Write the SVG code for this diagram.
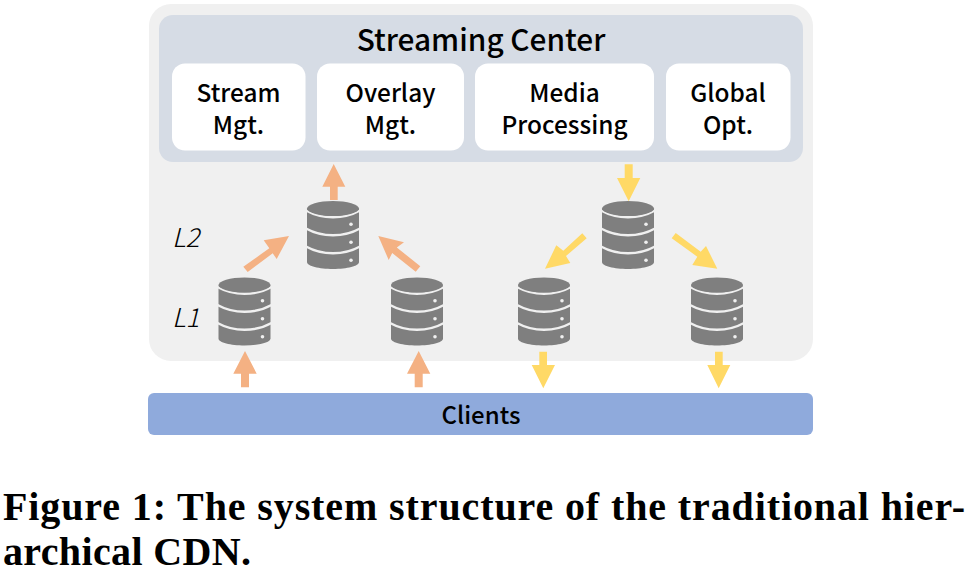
<svg xmlns="http://www.w3.org/2000/svg" width="970" height="572" viewBox="0 0 970 572">
<style>
text{font-family:"Noto Sans CJK SC","Noto Sans",sans-serif;fill:#000;text-anchor:middle;font-weight:500}
.box{fill:#fff}
.lbl{font-size:24.4px}
.lvl{font-size:26px;font-style:italic;font-weight:200;text-anchor:start}
.cap{font-family:"Liberation Serif",serif;font-weight:700;font-size:40px;text-anchor:start}
.up{fill:#F4B183}
.down{fill:#FFD966}
.band{fill:none;stroke:#F0F0F0;stroke-width:2.4}
</style>
<defs>
<g id="db">
<path d="M0,8V61C0,65 12,68 26,68C40,68 52,65 52,61V8Z" fill="#7F7F7F"/>
<path class="band" d="M-1,9.5C8,14.5 18,16.3 26,16.3C34,16.3 44,14.5 53,9.5"/>
<path class="band" d="M-1,27.5C8,32.5 18,34.3 26,34.3C34,34.3 44,32.5 53,27.5"/>
<path class="band" d="M-1,45.5C8,50.5 18,52.3 26,52.3C34,52.3 44,50.5 53,45.5"/>
<ellipse cx="26" cy="7.5" rx="26" ry="7.5" fill="#7F7F7F"/>
<circle cx="44" cy="23.3" r="1.8" fill="#F0F0F0"/>
<circle cx="44" cy="41.3" r="1.8" fill="#F0F0F0"/>
<circle cx="44" cy="59.3" r="1.8" fill="#F0F0F0"/>
</g>
</defs>
<rect width="970" height="572" fill="#fff"/>
<rect id="background" x="149" y="4" width="664" height="357" rx="22" fill="#F0F0F0"/>
<g id="streaming-center">
<rect x="159" y="15" width="644" height="147" rx="14" fill="#D6DCE5"/>
<text x="481" y="50.5" font-size="29.8">Streaming Center</text>
</g>
<g id="stream-mgt"><rect class="box" x="172" y="63.5" width="133.5" height="87" rx="13"/><text class="lbl" x="238.5" y="101.5">Stream</text><text class="lbl" x="238.5" y="133.5">Mgt.</text></g>
<g id="overlay-mgt"><rect class="box" x="317" y="63.5" width="147" height="87" rx="13"/><text class="lbl" x="390.5" y="101.5">Overlay</text><text class="lbl" x="390.5" y="133.5">Mgt.</text></g>
<g id="media-processing"><rect class="box" x="475" y="63.5" width="179" height="87" rx="13"/><text class="lbl" x="564.5" y="101.5">Media</text><text class="lbl" x="564.5" y="133.5">Processing</text></g>
<g id="global-opt"><rect class="box" x="666" y="63.5" width="124.5" height="87" rx="13"/><text class="lbl" x="728" y="101.5">Global</text><text class="lbl" x="728" y="133.5">Opt.</text></g>
<g id="clients"><rect x="148" y="393" width="665" height="42" rx="6" fill="#8FAADC"/><text x="481" y="424" font-size="24">Clients</text></g>
<g id="level-l2"><text class="lvl" x="172" y="246.5">L2</text></g>
<g id="level-l1"><text class="lvl" x="172" y="326.5">L1</text></g>
<g id="server-l2-left"><use href="#db" x="307" y="201"/></g>
<g id="server-l2-right"><use href="#db" x="602" y="201"/></g>
<g id="server-l1-a"><use href="#db" x="218.5" y="277.5"/></g>
<g id="server-l1-b"><use href="#db" x="391" y="277.5"/></g>
<g id="server-l1-c"><use href="#db" x="518" y="277.5"/></g>
<g id="server-l1-d"><use href="#db" x="691" y="277.5"/></g>
<g id="connectors">
<polygon class="up" points="333.7,164 345.3,186.7 337.7,186.7 337.7,200 330,200 330,186.7 322.3,186.7"/>
<polygon class="up" points="245,351 256.7,373.7 249,373.7 249,387.3 241,387.3 241,373.7 233.3,373.7"/>
<polygon class="up" points="418.7,351 430.3,373.7 422.7,373.7 422.7,387.3 414.7,387.3 414.7,373.7 407,373.7"/>
<polygon class="up" points="289,236 263.7,240.3 269.3,248.3 243.3,266.7 247.7,272 272.7,253.3 276.7,259"/>
<polygon class="up" points="378.3,236 404,242.3 396.8,247.5 420.3,266.2 415.7,271.8 392.2,253 388.7,260"/>
<polygon class="down" points="628.7,201.3 640.3,178 632.7,178 632.7,164.3 624.7,164.3 624.7,178 617,178"/>
<polygon class="down" points="545,268.7 570.3,263 566,256 586.7,238.3 582.3,233.3 563.3,250.7 556.3,245.3"/>
<polygon class="down" points="717.3,268.7 706,246 700.7,251.7 675.7,233 671.7,238.3 697.3,256.7 692.3,265"/>
<polygon class="down" points="543.3,388.3 555,365 547,365 547,351.7 539.3,351.7 539.3,365 531.7,365"/>
<polygon class="down" points="718.7,388.3 730.3,365 722.7,365 722.7,351.7 715,351.7 715,365 707.3,365"/>
</g>
<g id="caption">
<text class="cap" x="3" y="519.5" textLength="962" lengthAdjust="spacing">Figure 1: The system structure of the traditional hier-</text>
<text class="cap" x="3" y="564.5" textLength="248" lengthAdjust="spacing">archical CDN.</text>
</g>
</svg>
